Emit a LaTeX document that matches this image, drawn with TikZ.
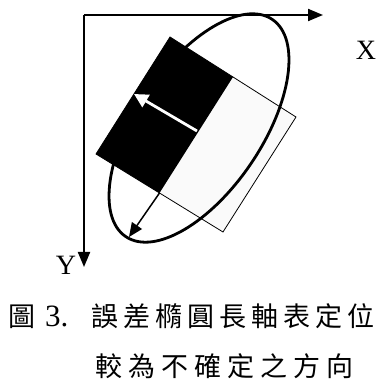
\documentclass[tikz,border=0pt]{standalone}
\usepackage{fontspec}
\setmainfont{Liberation Serif}
\newfontfamily\cjk{Noto Sans CJK TC}
\usetikzlibrary{arrows.meta,calc}
\newcommand\gp{\hspace{5pt}}
\newcommand\gq{\hspace{6pt}}
\tikzset{
  axisline/.style={line width=2pt,-{Triangle[length=15pt,width=12pt]}},
  lbl/.style={font=\fontsize{28}{28}\selectfont, inner sep=0pt},
  captext/.style={font=\fontsize{27}{27}\selectfont, inner sep=0pt, anchor=west},
}
\begin{document}
\begin{tikzpicture}[x=1pt,y=1pt]
\useasboundingbox (0,0) rectangle (380,386);
% key points
\coordinate (O) at (84,371);
\coordinate (XE) at (323,371);
\coordinate (YE) at (84,119);
\coordinate (T) at (170,349);
\coordinate (R) at (296,269);
\coordinate (B) at (223,154);
\coordinate (L) at (96,232);
\coordinate (M1) at ($(T)!0.5!(R)$);
\coordinate (M2) at ($(L)!0.5!(B)$);
\coordinate (C) at (199,258);
\coordinate (WS) at (197,255);
\coordinate (WE) at (134,292);
\coordinate (BE) at (129,149);
% rectangle
\fill[white!98!black] (M1) -- (R) -- (B) -- (M2) -- cycle;
\fill[black] (T) -- (M1) -- (M2) -- (L) -- cycle;
\draw[line width=0.8pt] (T) -- (R) -- (B) -- (L) -- cycle;
% ellipse
\draw[line width=2.8pt] (C) ellipse [x radius=131, y radius=63, rotate=56];
% arrows
\draw[white, line width=2.8pt, -{Triangle[length=14pt,width=14pt]}] (WS) -- (WE);
\draw[line width=1.5pt, -{Triangle[length=14pt,width=12pt]}] (M2) -- (BE);
% axes
\draw[axisline] (O) -- (XE);
\draw[axisline] (O) -- (YE);
\node[lbl] (xl) at (366,336) {X};
\node[lbl] (yl) at (66,121) {Y};
% caption
\node[captext] (c1) at (8,70) {{\cjk 圖}\hspace{10pt}{\fontsize{31}{31}\selectfont 3.}\hspace{23pt}{\cjk 誤\gp 差\gp 橢\gp 圓\gp 長\gp 軸\gp 表\gp 定\gp 位}};
\node[captext] (c2) at (95,20) {{\cjk 較\gq 為\gq 不\gq 確\gq 定\gq 之\gq 方\gq 向}};
\end{tikzpicture}
\end{document}
